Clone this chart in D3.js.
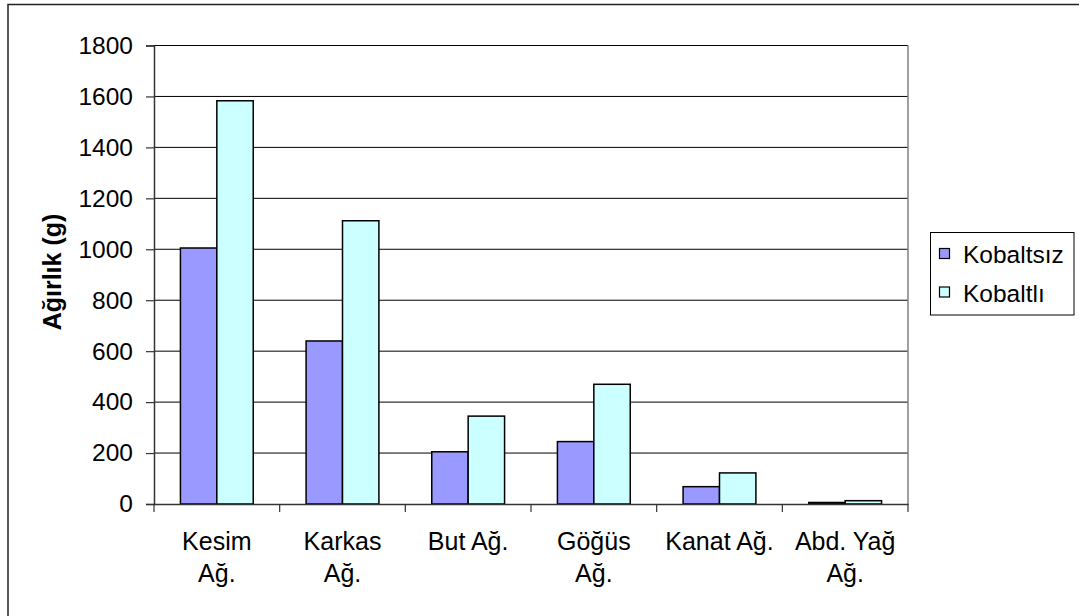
<!DOCTYPE html>
<html>
<head>
<meta charset="utf-8">
<script src="https://cdn.jsdelivr.net/npm/d3@7/dist/d3.min.js"></script>
<style>
  html, body { margin: 0; padding: 0; background: #fff; }
  svg { display: block; font-family: "Liberation Sans", Arial, sans-serif; }
</style>
</head>
<body>
<svg id="chart" width="1079" height="616"></svg>
<script>
const categories = ["Kesim\nAğ.", "Karkas\nAğ.", "But Ağ.", "Göğüs\nAğ.", "Kanat Ağ.", "Abd. Yağ\nAğ."];
const seriesNames = ["Kobaltsız", "Kobaltlı"];
const kobaltsiz = [1005, 640, 205, 245, 68, 6];
const kobaltli = [1583, 1112, 345, 470, 122, 13];
const yTicks = [0, 200, 400, 600, 800, 1000, 1200, 1400, 1600, 1800];
const colors = ["#9999FF", "#CCFFFF"];
const yTitle = "Ağırlık (g)";

(function draw() {
const svg = d3.select("#chart");
const pLeft = 154, pRight = 908, pTop = 45.5, pBottom = 504;

// outer chart border (cropped at right/bottom)
svg.append("rect").attr("x", 8).attr("y", 4.5).attr("width", 1100).attr("height", 700)
  .attr("fill", "none").attr("stroke", "#222").attr("stroke-width", 1.5);

const x = d3.scaleBand().domain(categories).range([pLeft, pRight]).padding(0);
const xi = d3.scaleBand().domain(seriesNames).range([0, x.bandwidth()]).paddingInner(0).paddingOuter(0.726);
const y = d3.scaleLinear().domain([0, 1800]).range([pBottom, pTop]);

// gridlines
svg.append("g").selectAll("line").data(yTicks.filter(d => d > 0)).join("line")
  .attr("x1", pLeft).attr("x2", pRight)
  .attr("y1", d => y(d)).attr("y2", d => y(d))
  .attr("stroke", "#000").attr("stroke-width", 1);

// plot right border
svg.append("line").attr("x1", pRight).attr("x2", pRight).attr("y1", pTop).attr("y2", pBottom)
  .attr("stroke", "#808080").attr("stroke-width", 1.5);

// bars
const data = categories.map((c, i) => ({ c, vals: [kobaltsiz[i], kobaltli[i]] }));
const groups = svg.append("g").selectAll("g").data(data).join("g")
  .attr("transform", d => `translate(${x(d.c)},0)`);
groups.selectAll("rect").data(d => d.vals.map((v, j) => ({ v, s: seriesNames[j], j }))).join("rect")
  .attr("x", d => xi(d.s))
  .attr("width", xi.bandwidth())
  .attr("y", d => y(d.v))
  .attr("height", d => pBottom - y(d.v))
  .attr("fill", d => colors[d.j])
  .attr("stroke", "#000").attr("stroke-width", 1.5);

// y axis
const yAxis = d3.axisLeft(y).tickValues(yTicks).tickSize(8).tickPadding(13).tickFormat(d3.format("d"));
const gy = svg.append("g").attr("transform", `translate(${pLeft},0)`).call(yAxis);
gy.select(".domain").attr("stroke", "#333").attr("stroke-width", 1.5);
gy.selectAll(".tick line").attr("stroke", "#333").attr("stroke-width", 1.2);
gy.selectAll(".tick text").attr("font-size", "24.5px").attr("fill", "#000")
  .attr("font-family", "'Liberation Sans', Arial, sans-serif");

// x axis
const xAxis = d3.axisBottom(x).tickSize(0).tickFormat("");
const gx = svg.append("g").attr("transform", `translate(0,${pBottom})`).call(xAxis);
gx.select(".domain").attr("stroke", "#333").attr("stroke-width", 1.5);
gx.selectAll(".tick").remove();
// category boundary ticks
const bounds = categories.map(c => x(c)).concat([pRight]);
svg.append("g").selectAll("line").data(bounds).join("line")
  .attr("x1", d => d).attr("x2", d => d).attr("y1", pBottom).attr("y2", pBottom + 8)
  .attr("stroke", "#333").attr("stroke-width", 1.2);

// category labels
const labels = svg.append("g").selectAll("text").data(categories).join("text")
  .attr("x", d => x(d) + x.bandwidth() / 2)
  .attr("y", 550)
  .attr("text-anchor", "middle")
  .attr("font-size", "25px")
  .attr("fill", "#000");
labels.each(function(d) {
  const t = d3.select(this);
  d.split("\n").forEach((line, i) => {
    t.append("tspan").attr("x", x(d) + x.bandwidth() / 2).attr("y", 550 + i * 31.7).text(line);
  });
});

// y title
svg.append("text")
  .attr("transform", "translate(61,272) rotate(-90)")
  .attr("text-anchor", "middle")
  .attr("font-size", "25px").attr("font-weight", "bold").attr("fill", "#000")
  .text(yTitle);

// legend
const lg = svg.append("g");
lg.append("rect").attr("x", 930.5).attr("y", 232.5).attr("width", 143.5).attr("height", 82.5)
  .attr("fill", "#fff").attr("stroke", "#000").attr("stroke-width", 1);
const items = lg.selectAll("g").data(seriesNames).join("g")
  .attr("transform", (d, i) => `translate(0,${i * 38.5})`);
items.append("rect").attr("x", 939.5).attr("y", 248.5).attr("width", 10).attr("height", 10)
  .attr("fill", (d, i) => colors[i]).attr("stroke", "#000").attr("stroke-width", 1.2);
items.append("text").attr("x", 963).attr("y", 263).attr("font-size", "24.5px").attr("fill", "#000")
  .text(d => d);
})();
</script>
</body>
</html>
